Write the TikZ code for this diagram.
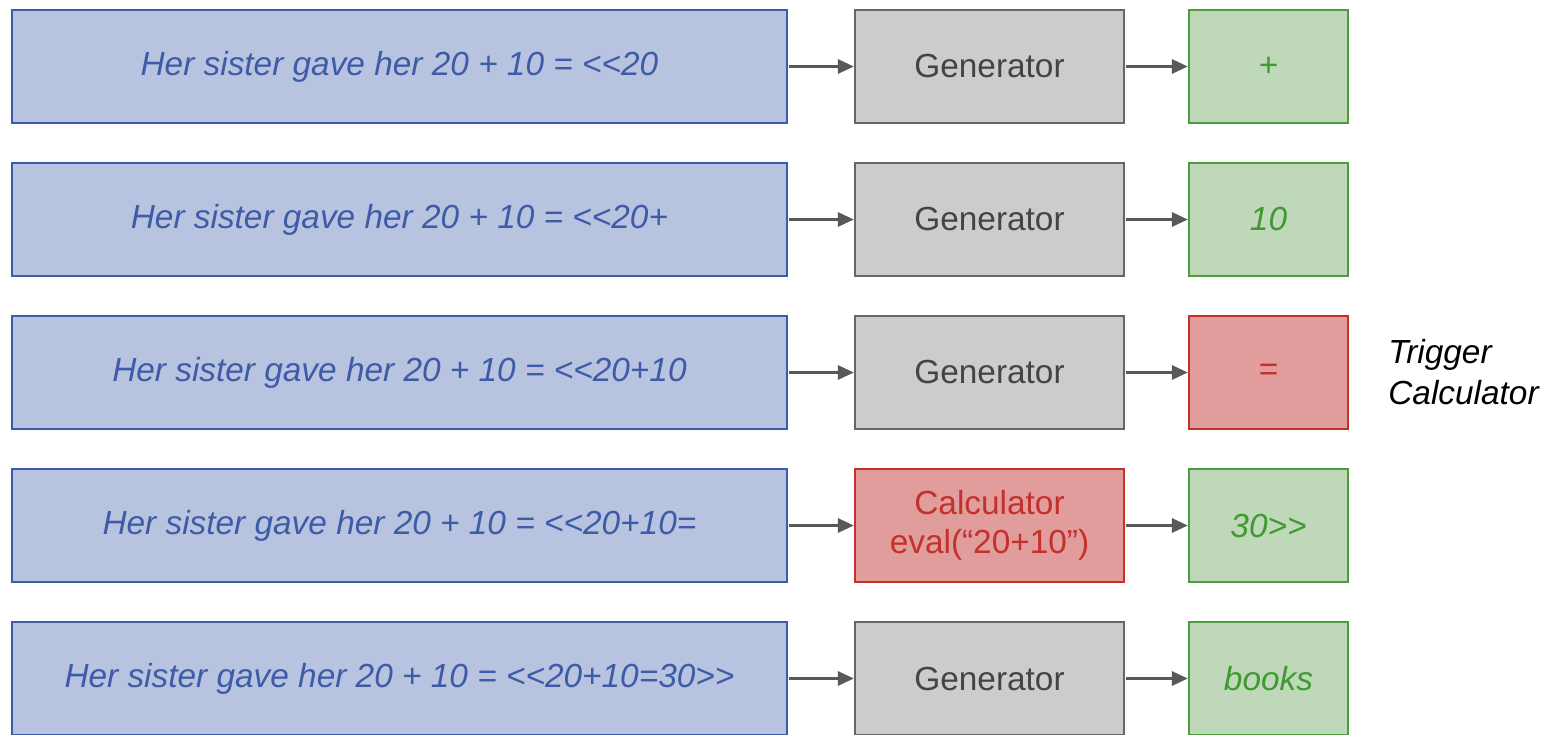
\documentclass[tikz,border=0pt]{standalone}
\usepackage{fontspec}
\setmainfont{Liberation Sans}
\usetikzlibrary{arrows.meta}
\definecolor{bfill}{HTML}{B8C3DF}
\definecolor{bline}{HTML}{3D5BA7}
\definecolor{gfill}{HTML}{CCCCCC}
\definecolor{gline}{HTML}{666666}
\definecolor{gtext}{HTML}{444444}
\definecolor{grfill}{HTML}{BED8B9}
\definecolor{grline}{HTML}{4F9B3F}
\definecolor{grtext}{HTML}{3F9A30}
\definecolor{rfill}{HTML}{E09D9C}
\definecolor{rline}{HTML}{C4302B}
\definecolor{aline}{HTML}{595959}
\tikzset{
  box/.style={draw, line width=1.4pt, inner sep=0pt, font=\fontsize{19}{23}\selectfont, align=center},
  inbox/.style={box, fill=bfill, draw=bline, text=bline, minimum width=15.5cm, minimum height=2.26cm, font=\fontsize{19}{23}\selectfont\itshape},
  genbox/.style={box, fill=gfill, draw=gline, text=gtext, minimum width=5.38cm, minimum height=2.26cm},
  calcbox/.style={box, fill=rfill, draw=rline, text=rline, minimum width=5.38cm, minimum height=2.26cm},
  outbox/.style={box, fill=grfill, draw=grline, text=grtext, minimum width=3.18cm, minimum height=2.26cm},
  trigbox/.style={box, fill=rfill, draw=rline, text=rline, minimum width=3.18cm, minimum height=2.26cm},
  arr/.style={draw=aline, line width=1.5pt, -{Triangle[length=9pt,width=8pt]}, shorten <=0.7pt}
}
\begin{document}
\begin{tikzpicture}[x=0.02cm,y=-0.02cm]
\useasboundingbox (0,0) rectangle (1547,734);
\clip (0,0) rectangle (1547,734);
\node[inbox] (i1) at (399.5,66.5) {Her sister gave her 20 + 10 = <{}<20};
\node[genbox] (g1) at (989.5,66.5) {Generator};
\node[outbox] (o1) at (1268.5,66.5) {+};
\node[inbox] (i2) at (399.5,219.5) {Her sister gave her 20 + 10 = <{}<20+};
\node[genbox] (g2) at (989.5,219.5) {Generator};
\node[outbox, font=\fontsize{19}{23}\selectfont\itshape] (o2) at (1268.5,219.5) {10};
\node[inbox] (i3) at (399.5,372.5) {Her sister gave her 20 + 10 = <{}<20+10};
\node[genbox] (g3) at (989.5,372.5) {Generator};
\node[trigbox] (o3) at (1268.5,372.5) {=};
\node[inbox] (i4) at (399.5,525.5) {Her sister gave her 20 + 10 = <{}<20+10=};
\node[calcbox] (g4) at (989.5,525.5) {Calculator\\[-1pt]eval(“20+10”)};
\node[outbox, font=\fontsize{19}{23}\selectfont\itshape] (o4) at (1268.5,525.5) {30>{}>};
\node[inbox] (i5) at (399.5,678.5) {Her sister gave her 20 + 10 = <{}<20+10=30>{}>};
\node[genbox] (g5) at (989.5,678.5) {Generator};
\node[outbox, font=\fontsize{19}{23}\selectfont\itshape] (o5) at (1268.5,678.5) {books};
\node[anchor=west, align=left, font=\fontsize{19}{23}\selectfont\itshape, inner sep=0pt] (t) at (1388,372) {Trigger\\Calculator};
\foreach \k in {1,...,5} {
  \draw[arr] (i\k) -- (g\k);
  \draw[arr] (g\k) -- (o\k);
}
\end{tikzpicture}
\end{document}
